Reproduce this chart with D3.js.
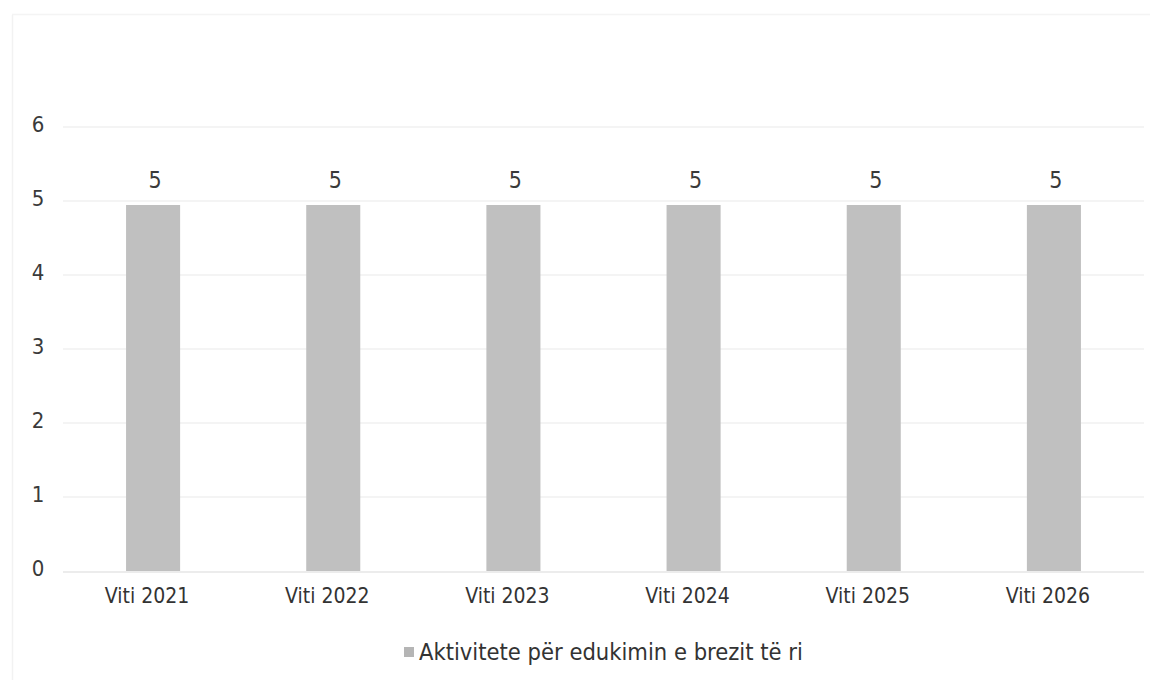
<!DOCTYPE html>
<html>
<head>
<meta charset="utf-8">
<script src="https://cdn.jsdelivr.net/npm/d3@7"></script>
<style>
  html, body { margin: 0; padding: 0; background: #fff; }
  svg text { font-family: "DejaVu Sans Condensed", "DejaVu Sans", sans-serif; font-stretch: condensed; }
</style>
</head>
<body>
<svg id="chart" width="1154" height="684"></svg>
<script>
const categories = ["Viti 2021", "Viti 2022", "Viti 2023", "Viti 2024", "Viti 2025", "Viti 2026"];
const values = [5, 5, 5, 5, 5, 5];
const yTicks = [0, 1, 2, 3, 4, 5, 6];
const seriesName = "Aktivitete për edukimin e brezit të ri";

const svg = d3.select("#chart");
const margin = { left: 63, top: 127 };
const plotRight = 1144;

// faint frame (scanned page edge)
svg.append("line").attr("x1", 12.5).attr("x2", 12.5).attr("y1", 15).attr("y2", 680)
  .attr("stroke", "#f2f2f2").attr("stroke-width", 1.5);
svg.append("line").attr("x1", 12).attr("x2", 1150).attr("y1", 14.5).attr("y2", 14.5)
  .attr("stroke", "#f4f4f4").attr("stroke-width", 1.5);

const x = d3.scaleBand().domain(categories).range([margin.left, plotRight]).paddingInner(0.7).paddingOuter(0.35);
const y = d3.scaleLinear().domain([0, 6]).range([571, 127]);

// gridlines
svg.append("g").selectAll("line").data(yTicks.filter(d => d > 0)).join("line")
  .attr("x1", margin.left).attr("x2", plotRight)
  .attr("y1", d => y(d)).attr("y2", d => y(d))
  .attr("stroke", "#f1f1f1").attr("stroke-width", 1.5);

// bars
svg.append("g").selectAll("rect").data(values).join("rect")
  .attr("x", (d, i) => x(categories[i]))
  .attr("y", d => y(d) + 4)
  .attr("width", x.bandwidth())
  .attr("height", d => y(0) - y(d) - 4)
  .attr("fill", "#c0c0c0");

// baseline axis
svg.append("line").attr("x1", margin.left).attr("x2", plotRight)
  .attr("y1", y(0) + 1).attr("y2", y(0) + 1)
  .attr("stroke", "#e6e6e6").attr("stroke-width", 1.5);

// y axis labels
const yAxis = d3.axisLeft(y).tickValues(yTicks).tickSize(0).tickPadding(0).tickFormat(d3.format("d"));
const yg = svg.append("g").attr("transform", "translate(38,-3)").call(yAxis);
yg.select(".domain").remove();
yg.selectAll("text").attr("font-size", 22).attr("fill", "#3a3a3a").attr("text-anchor", "middle");

// x axis labels
const xAxis = d3.axisBottom(x).tickSize(0).tickPadding(0);
const xg = svg.append("g").attr("transform", "translate(-6,588)").call(xAxis);
xg.select(".domain").remove();
xg.selectAll("text").attr("font-size", 21).attr("fill", "#333").attr("dy", "0.71em");

// value labels
svg.append("g").selectAll("text").data(values).join("text")
  .attr("x", (d, i) => x(categories[i]) + x.bandwidth() / 2 + 2)
  .attr("y", d => y(d) - 13)
  .attr("text-anchor", "middle")
  .attr("font-size", 23).attr("fill", "#3a3a3a")
  .text(d => d);

// legend
const lg = svg.append("g").attr("transform", "translate(404,652)");
lg.append("rect").attr("x", 0).attr("y", -5).attr("width", 10).attr("height", 10).attr("fill", "#b5b5b5");
lg.append("text").attr("x", 15).attr("y", 0).attr("dy", "0.35em")
  .attr("font-size", 23.5).attr("fill", "#333").text(seriesName);
</script>
</body>
</html>
